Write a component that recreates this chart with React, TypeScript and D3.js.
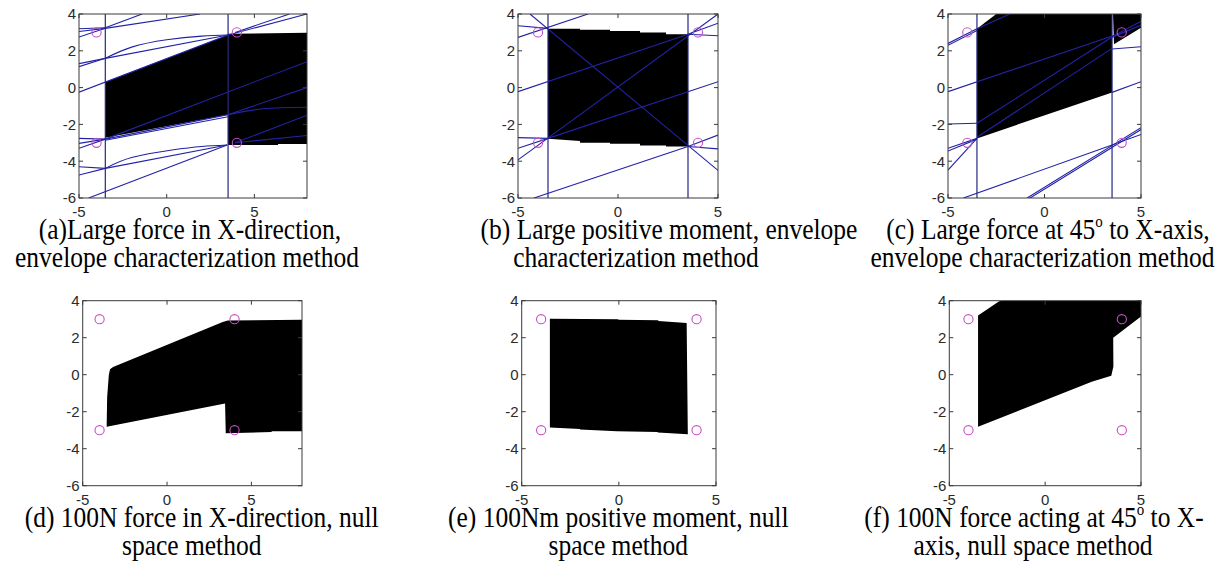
import React from "react";
import * as d3 from "d3";

type Pt = [number, number];

// shared axis ticks
const xTicks = [-5, 0, 5];
const yTicks = [-6, -4, -2, 0, 2, 4];
// contact points (magenta circles) and the two vertical bounds of the envelope plots
const contactX = [-4, 4];
const contactY = [-3, 3];
const guideX = [-3.5, 3.5];

// (a) large force in X-direction, envelope
const regionsA: Pt[][] = [
  [[-3.5, 0.3], [3.5, 2.86], [3.5, -1.47], [-3.5, -2.72]],
  [[3.5, 2.92], [8, 2.98], [8, -3.07], [6.35, -3.07], [6.35, -3.12], [3.5, -3.12]],
];
const linesA: Pt[][] = [
  [[-5, -0.25], [3.5, 2.86]],
  [[-3.5, -2.8], [8, 1.41]],
  [[-3.5, -2.8], [3.5, -1.47], [8, 0.0]],
  [[-3.5, -2.86], [3.5, -1.58]],
  [[3.9, -3.0], [8, -1.5]],
  [[3.9, -3.0], [8, -2.6]],
  [[3.5, 2.86], [8, 4.0]],
  [[3.9, 3.0], [7.0, 4.0]],
  [[-5, 3.2], [-3.5, 3.25]],
  [[-5, 2.75], [-3.5, 3.22]],
  [[-5, 3.05], [-3.5, 3.22]],
  [[-3.5, 3.25], [-1.4, 4.0]],
  [[-3.5, 3.22], [1.9, 4.0]],
  [[-5, 1.14], [-3.5, 1.59]],
  [[-5, 1.3], [-3.5, 1.59]],
  [[-3.5, 1.59], [3.5, 2.86]],
  [[-5, -2.76], [-3.5, -2.8]],
  [[-5, -3.03], [-3.5, -2.8]],
  [[-5, -3.3], [-3.5, -2.8]],
  [[-5, -4.3], [-3.5, -4.39]],
  [[-5, -4.75], [-3.5, -4.39]],
  [[-3.5, -4.39], [3.45, -3.12]],
  [[-4.45, -6], [3.45, -3.12]],
];
const curvesA: Pt[][] = [
  [[-3.5, 1.59], [-2, 2.2], [0, 2.6], [2, 2.8], [3.5, 2.86]],
  [[-3.5, -4.39], [-2, -3.8], [0.3, -3.39], [2, -3.2], [3.45, -3.12]],
  [[3.5, -1.47], [5.5, -1.15], [8, -1.07]],
];

// (b) large positive moment, envelope
const regionsB: Pt[][] = [
  [
    [-3.5, 3.2], [-1.9, 3.2], [-1.9, 3.15], [-0.4, 3.15], [-0.4, 3.07], [1.1, 3.07],
    [1.1, 3.0], [2.4, 3.0], [2.4, 2.9], [3.5, 2.9], [3.5, -3.2], [2.4, -3.2],
    [2.4, -3.15], [1.1, -3.15], [1.1, -3.05], [-0.4, -3.05], [-0.4, -3.0],
    [-1.9, -3.0], [-1.9, -2.9], [-3.5, -2.78],
  ],
];
const linesB: Pt[][] = [
  [[-4.4, 4], [5, -4.5]],
  [[-5, -3.93], [5, 4]],
  [[-5, -0.22], [3.5, 2.9]],
  [[-3.5, -2.76], [5, 0.32]],
  [[-4.2, -6], [3.5, -3.2]],
  [[-5, 2.73], [-1.5, 4]],
  [[-5, 3.36], [-3.5, 3.22]],
  [[3.5, 2.9], [5, 2.82]],
  [[3.5, 2.9], [5, 3.5]],
  [[3.5, -3.2], [5, -3.33]],
  [[3.5, -3.2], [5, -2.58]],
  [[-5, -2.72], [-3.5, -2.76]],
  [[-5, -3.3], [-3.5, -2.76]],
];

// (c) large force at 45 deg, envelope
const regionsC: Pt[][] = [
  [[-3.5, 3.2], [-2.5, 4], [3.5, 4], [3.5, -0.26], [-3.5, -2.76]],
  [[3.55, 4], [5, 4], [5, 3.25], [3.6, 2.35]],
];
const linesC: Pt[][] = [
  [[-5, -0.22], [4.2, 3.05]],
  [[-3.5, -2.7], [3.5, 2.13]],
  [[-3.5, -1.94], [3.4, 2.68]],
  [[-5, 2.4], [-3.5, 3.2], [-1.8, 4]],
  [[-5, 2.3], [-3.5, 3.1]],
  [[-5, -1.98], [-3.5, -1.94]],
  [[-5, -3.3], [-3.5, -2.76]],
  [[-5, -3.45], [-3.5, -2.8]],
  [[-5, -4.48], [-3.5, -2.76]],
  [[3.5, 2.1], [5, 2.22]],
  [[3.5, -0.26], [5, 0.32]],
  [[-4.2, -6], [3.5, -3.12], [5, -2.55]],
  [[-0.9, -6], [5, -2.18]],
  [[-0.9, -6.1], [5, -2.28]],
  [[3.5, 2.77], [5, 3.6]],
  [[3.4, 2.68], [5, 3.4]],
];

// (d)-(f) null space method: feasible regions only
const regionsD: Pt[][] = [
  [
    [-3.38, 0.3], [-3.2, 0.42], [3.3, 2.85], [3.6, 2.93], [8, 2.97], [8, -3.05],
    [6.2, -3.05], [6.2, -3.1], [3.48, -3.17], [3.44, -1.55], [-3.58, -2.81],
    [-3.55, -1.2], [-3.45, 0.0],
  ],
];
const regionsE: Pt[][] = [
  [
    [-3.55, 3.02], [-0.03, 3.0], [-0.03, 2.97], [2.03, 2.95], [2.03, 2.9],
    [3.49, 2.8], [3.55, -3.22], [2.0, -3.13], [2.0, -3.1], [-0.1, -3.05],
    [-2.0, -2.96], [-2.0, -2.93], [-3.55, -2.86],
  ],
];
const regionsF: Pt[][] = [
  [
    [-3.5, 3.2], [-2.4, 3.97], [-2.2, 4], [5, 4], [5, 3.15], [3.55, 2.0],
    [3.56, 0.45], [3.45, -0.05], [2.43, -0.38], [-3.5, -2.81],
  ],
];

const captionsTop = [
  ["(a)Large force in X-direction,", "envelope characterization method"],
  ["(b) Large positive moment, envelope", "characterization method"],
  ["(c) Large force at 45^o to X-axis,", "envelope characterization method"],
];
const captionsBottom = [
  ["(d) 100N force in X-direction, null", "space method"],
  ["(e) 100Nm positive moment, null", "space method"],
  ["(f) 100N force acting at 45^o to X-", "axis, null space method"],
];

const BLUE = "#2222a6";
const MAGENTA = "#c84ec8";

type Frame = { left: number; right: number; top: number; bottom: number; xMax: number };

const Caption = ({ text, x, y }: { text: string; x: number; y: number }) => {
  const parts = text.split("^o");
  return (
    <text
      transform={`translate(${x},${y}) scale(1,1.18)`}
      textAnchor="middle"
      fontFamily="'Liberation Serif', 'Times New Roman', serif"
      fontSize={25.5}
      fill="#000"
    >
      {parts.length === 1 ? (
        text
      ) : (
        <>
          {parts[0]}
          <tspan dy={-10} fontSize={15}>o</tspan>
          <tspan dy={10}>{parts[1]}</tspan>
        </>
      )}
    </text>
  );
};

const Panel = ({
  id,
  frame,
  regions,
  lines = [],
  curves = [],
  guides = false,
}: {
  id: string;
  frame: Frame;
  regions: Pt[][];
  lines?: Pt[][];
  curves?: Pt[][];
  guides?: boolean;
}) => {
  const x = d3.scaleLinear().domain([-5, frame.xMax]).range([frame.left, frame.right]);
  const y = d3.scaleLinear().domain([-6, 4]).range([frame.bottom, frame.top]);
  const line = d3.line<Pt>().x((d) => x(d[0])).y((d) => y(d[1]));
  const curve = d3.line<Pt>().x((d) => x(d[0])).y((d) => y(d[1])).curve(d3.curveNatural);
  const tick = 4;
  const contacts: Pt[] = contactX.flatMap((cx) => contactY.map((cy) => [cx, cy] as Pt));

  return (
    <g>
      <defs>
        <clipPath id={`clip-${id}`}>
          <rect x={frame.left} y={frame.top} width={frame.right - frame.left} height={frame.bottom - frame.top} />
        </clipPath>
      </defs>
      <g clipPath={`url(#clip-${id})`}>
        {regions.map((r, i) => (
          <path key={i} d={line(r) + "Z"} fill="#000" />
        ))}
        {lines.map((l, i) => (
          <path key={i} d={line(l) || ""} fill="none" stroke={BLUE} strokeWidth={1.1} />
        ))}
        {curves.map((l, i) => (
          <path key={i} d={curve(l) || ""} fill="none" stroke={BLUE} strokeWidth={1.1} />
        ))}
        {guides &&
          guideX.map((g) => (
            <line key={g} x1={x(g)} x2={x(g)} y1={frame.top} y2={frame.bottom} stroke="#262680" strokeWidth={1.2} />
          ))}
        {contacts.map((c, i) => (
          <circle key={i} cx={x(c[0])} cy={y(c[1])} r={4.6} fill="none" stroke={MAGENTA} strokeWidth={1.1} />
        ))}
      </g>
      <rect
        x={frame.left}
        y={frame.top}
        width={frame.right - frame.left}
        height={frame.bottom - frame.top}
        fill="none"
        stroke="#3a3a3a"
        strokeWidth={1}
      />
      {xTicks.map((t) => (
        <g key={t}>
          <line x1={x(t)} x2={x(t)} y1={frame.bottom} y2={frame.bottom - tick} stroke="#3a3a3a" />
          <line x1={x(t)} x2={x(t)} y1={frame.top} y2={frame.top + tick} stroke="#3a3a3a" />
          <text
            x={x(t)}
            y={frame.bottom + 19}
            textAnchor="middle"
            fontFamily="'Liberation Sans', Arial, sans-serif"
            fontSize={15}
            fill="#2b2b2b"
          >
            {t}
          </text>
        </g>
      ))}
      {yTicks.map((t) => (
        <g key={t}>
          <line x1={frame.left} x2={frame.left + tick} y1={y(t)} y2={y(t)} stroke="#3a3a3a" />
          <line x1={frame.right} x2={frame.right - tick} y1={y(t)} y2={y(t)} stroke="#3a3a3a" />
          <text
            x={frame.left - 3}
            y={y(t)}
            dy="0.36em"
            textAnchor="end"
            fontFamily="'Liberation Sans', Arial, sans-serif"
            fontSize={15}
            fill="#2b2b2b"
          >
            {t}
          </text>
        </g>
      ))}
    </g>
  );
};

export default function App() {
  const topRow = { top: 14, bottom: 198 };
  const botRow = { top: 300.7, bottom: 485.7 };
  const captionTopX = [
    [190, 187],
    [669, 636],
    [1048, 1042.5],
  ];
  const captionBotX = [
    [201.7, 191.7],
    [618.3, 618.3],
    [1034, 1033],
  ];

  return (
    <div style={{ position: "absolute", left: 0, top: 0 }}>
      <svg width={1229} height={574} style={{ display: "block", background: "#fff" }}>
        <Panel id="a" frame={{ left: 79, right: 307, xMax: 8, ...topRow }} regions={regionsA} lines={linesA} curves={curvesA} guides />
        <Panel id="b" frame={{ left: 518, right: 718, xMax: 5, ...topRow }} regions={regionsB} lines={linesB} guides />
        <Panel id="c" frame={{ left: 948, right: 1141, xMax: 5, ...topRow }} regions={regionsC} lines={linesC} guides />
        <Panel id="d" frame={{ left: 82.7, right: 302, xMax: 8, ...botRow }} regions={regionsD} />
        <Panel id="e" frame={{ left: 521.7, right: 716, xMax: 5, ...botRow }} regions={regionsE} />
        <Panel id="f" frame={{ left: 949.3, right: 1141, xMax: 5, ...botRow }} regions={regionsF} />
        {captionsTop.map((c, i) => (
          <g key={i}>
            <Caption text={c[0]} x={captionTopX[i][0]} y={239} />
            <Caption text={c[1]} x={captionTopX[i][1]} y={267} />
          </g>
        ))}
        {captionsBottom.map((c, i) => (
          <g key={i}>
            <Caption text={c[0]} x={captionBotX[i][0]} y={527} />
            <Caption text={c[1]} x={captionBotX[i][1]} y={555} />
          </g>
        ))}
      </svg>
    </div>
  );
}
